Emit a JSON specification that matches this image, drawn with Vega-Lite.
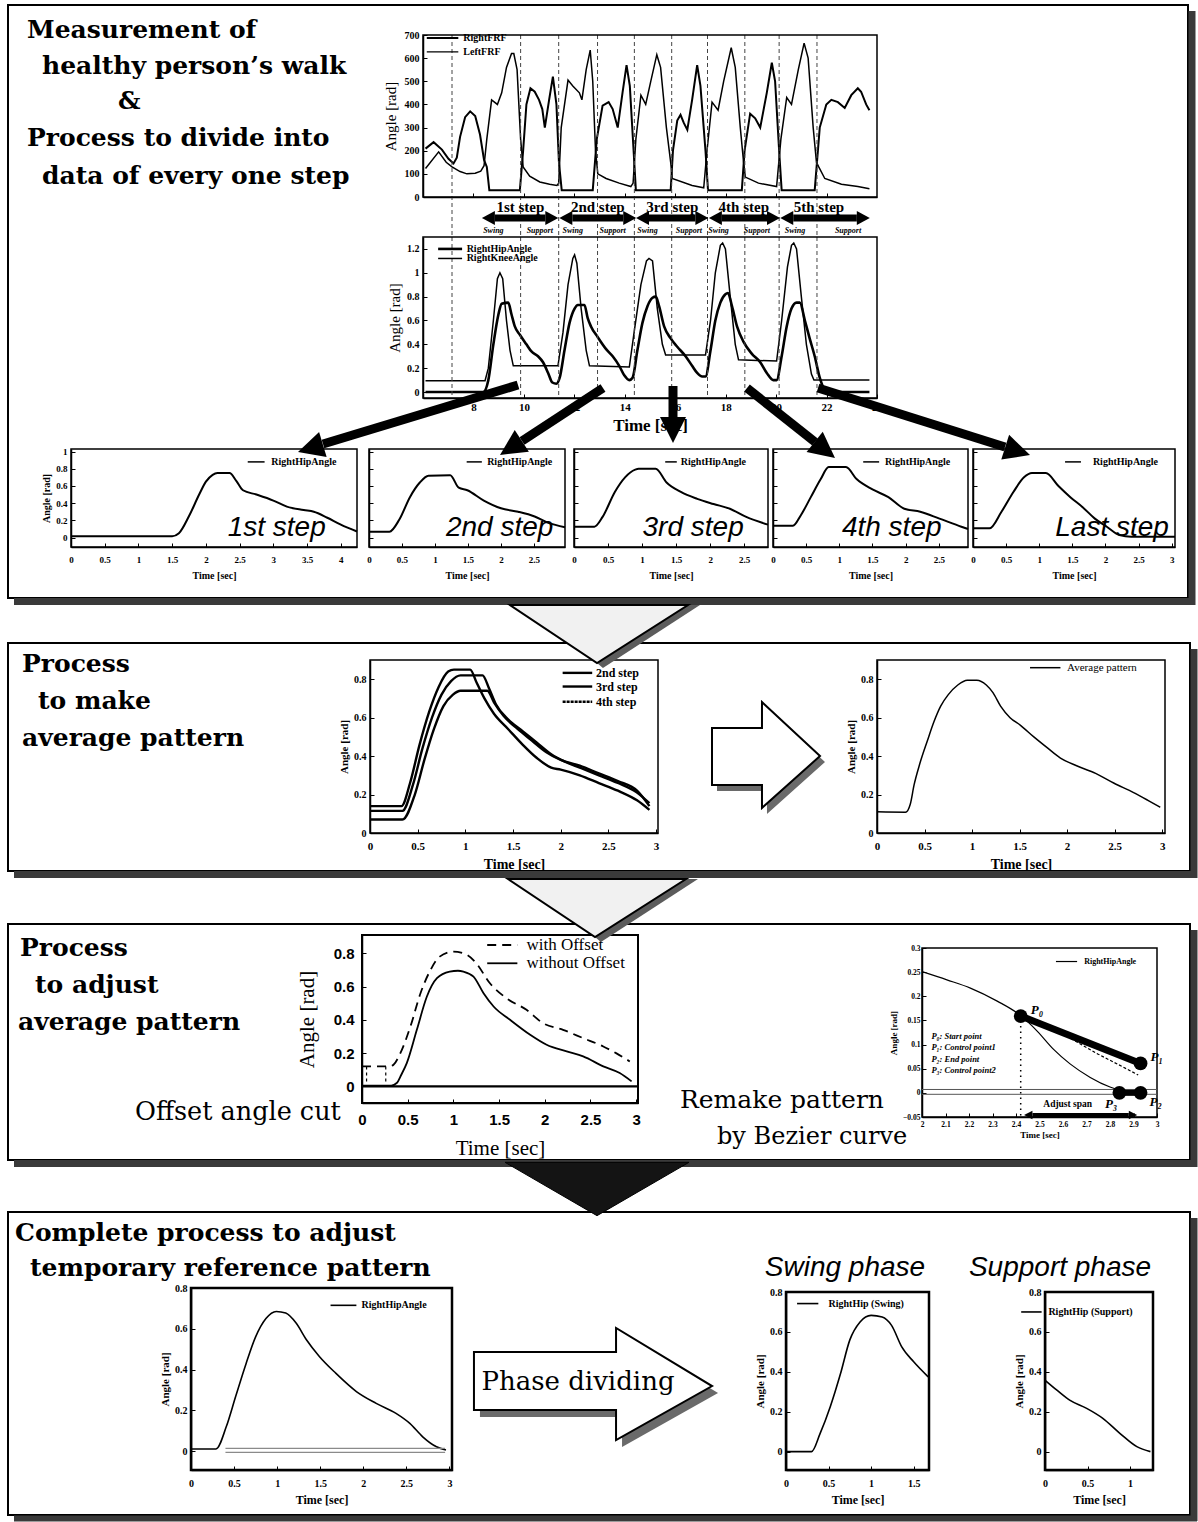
{
  "$schema": "https://vega.github.io/schema/vega-lite/v6.json",
  "width": 1198,
  "height": 1522,
  "autosize": {"type": "none"},
  "padding": 0,
  "background": "white",
  "data": {"values": [{}]},
  "config": {
    "view": {"stroke": null},
    "axis": {
      "grid": false, "labelFont": "Liberation Serif", "labelFontWeight": "bold", "labelFontSize": 10,
      "labelColor": "black", "titleFont": "Liberation Serif", "titleFontWeight": "bold", "titleFontSize": 11,
      "titleColor": "black", "domainColor": "black", "domainWidth": 1.5, "tickColor": "black",
      "tickSize": -4, "labelPadding": 8, "titlePadding": 4, "labelFlush": false, "labelOverlap": false
    },
    "text": {"font": "Liberation Serif", "color": "black"}
  },
  "datasets": {
    "frf_right": [{"t":6.1,"v":209},{"t":6.42,"v":237},{"t":6.75,"v":205},{"t":7.01,"v":165},{"t":7.21,"v":145},{"t":7.34,"v":170},{"t":7.47,"v":260},{"t":7.67,"v":345},{"t":7.87,"v":370},{"t":8.07,"v":350},{"t":8.26,"v":270},{"t":8.42,"v":160},{"t":8.53,"v":130},{"t":8.63,"v":29},{"t":9.84,"v":29},{"t":9.97,"v":200},{"t":10.1,"v":400},{"t":10.26,"v":470},{"t":10.43,"v":455},{"t":10.6,"v":420},{"t":10.73,"v":380},{"t":10.83,"v":300},{"t":11.0,"v":420},{"t":11.15,"v":520},{"t":11.29,"v":400},{"t":11.39,"v":150},{"t":11.5,"v":29},{"t":12.73,"v":29},{"t":12.89,"v":250},{"t":13.12,"v":395},{"t":13.36,"v":410},{"t":13.52,"v":380},{"t":13.72,"v":300},{"t":13.91,"v":450},{"t":14.07,"v":570},{"t":14.2,"v":480},{"t":14.35,"v":200},{"t":14.44,"v":29},{"t":15.82,"v":29},{"t":15.91,"v":200},{"t":16.08,"v":330},{"t":16.21,"v":355},{"t":16.34,"v":320},{"t":16.48,"v":290},{"t":16.67,"v":420},{"t":16.87,"v":570},{"t":17.0,"v":480},{"t":17.2,"v":200},{"t":17.3,"v":29},{"t":18.64,"v":29},{"t":18.75,"v":200},{"t":18.97,"v":360},{"t":19.17,"v":340},{"t":19.37,"v":300},{"t":19.63,"v":450},{"t":19.83,"v":580},{"t":19.96,"v":500},{"t":20.12,"v":200},{"t":20.22,"v":29},{"t":21.53,"v":29},{"t":21.73,"v":300},{"t":21.99,"v":400},{"t":22.19,"v":420},{"t":22.45,"v":410},{"t":22.72,"v":385},{"t":22.98,"v":440},{"t":23.24,"v":470},{"t":23.37,"v":455},{"t":23.57,"v":400},{"t":23.7,"v":375}],
    "frf_left": [{"t":6.1,"v":123},{"t":6.62,"v":195},{"t":6.92,"v":150},{"t":7.15,"v":130},{"t":7.47,"v":110},{"t":7.74,"v":100},{"t":8.07,"v":103},{"t":8.29,"v":112},{"t":8.42,"v":135},{"t":8.53,"v":250},{"t":8.72,"v":420},{"t":8.95,"v":400},{"t":9.12,"v":450},{"t":9.31,"v":560},{"t":9.51,"v":620},{"t":9.6,"v":620},{"t":9.73,"v":550},{"t":9.87,"v":250},{"t":9.97,"v":130},{"t":10.23,"v":90},{"t":10.63,"v":65},{"t":11.02,"v":55},{"t":11.31,"v":50},{"t":11.38,"v":60},{"t":11.48,"v":300},{"t":11.75,"v":505},{"t":11.94,"v":480},{"t":12.2,"v":450},{"t":12.3,"v":420},{"t":12.47,"v":550},{"t":12.63,"v":635},{"t":12.73,"v":500},{"t":12.84,"v":200},{"t":12.93,"v":100},{"t":13.26,"v":80},{"t":13.78,"v":60},{"t":14.24,"v":45},{"t":14.33,"v":60},{"t":14.44,"v":250},{"t":14.64,"v":440},{"t":14.83,"v":400},{"t":15.03,"v":500},{"t":15.27,"v":615},{"t":15.42,"v":560},{"t":15.65,"v":300},{"t":15.82,"v":150},{"t":15.88,"v":80},{"t":16.67,"v":50},{"t":17.13,"v":40},{"t":17.26,"v":200},{"t":17.46,"v":410},{"t":17.7,"v":375},{"t":17.92,"v":500},{"t":18.22,"v":645},{"t":18.38,"v":560},{"t":18.58,"v":300},{"t":18.71,"v":150},{"t":18.78,"v":86},{"t":19.3,"v":60},{"t":20.02,"v":45},{"t":20.19,"v":250},{"t":20.42,"v":430},{"t":20.61,"v":400},{"t":20.88,"v":550},{"t":21.11,"v":665},{"t":21.27,"v":600},{"t":21.47,"v":300},{"t":21.6,"v":150},{"t":21.69,"v":130},{"t":21.93,"v":80},{"t":22.59,"v":55},{"t":23.24,"v":45},{"t":23.7,"v":36}],
    "hip_angle": [{"t":6.1,"v":0},{"t":8.39,"v":0},{"t":8.59,"v":0.1},{"t":8.79,"v":0.4},{"t":8.99,"v":0.65},{"t":9.12,"v":0.74},{"t":9.38,"v":0.75},{"t":9.51,"v":0.65},{"t":9.64,"v":0.55},{"t":9.84,"v":0.48},{"t":10.1,"v":0.4},{"t":10.3,"v":0.34},{"t":10.56,"v":0.3},{"t":10.76,"v":0.25},{"t":10.96,"v":0.16},{"t":11.13,"v":0.08},{"t":11.29,"v":0.07},{"t":11.42,"v":0.12},{"t":11.61,"v":0.35},{"t":11.81,"v":0.58},{"t":12.01,"v":0.7},{"t":12.14,"v":0.73},{"t":12.4,"v":0.73},{"t":12.53,"v":0.62},{"t":12.66,"v":0.55},{"t":12.93,"v":0.46},{"t":13.26,"v":0.36},{"t":13.52,"v":0.3},{"t":13.78,"v":0.22},{"t":13.98,"v":0.14},{"t":14.18,"v":0.1},{"t":14.31,"v":0.12},{"t":14.5,"v":0.35},{"t":14.7,"v":0.58},{"t":14.9,"v":0.72},{"t":15.1,"v":0.79},{"t":15.23,"v":0.8},{"t":15.36,"v":0.72},{"t":15.56,"v":0.55},{"t":15.82,"v":0.45},{"t":16.08,"v":0.38},{"t":16.41,"v":0.3},{"t":16.67,"v":0.22},{"t":16.87,"v":0.16},{"t":17.07,"v":0.13},{"t":17.2,"v":0.13},{"t":17.4,"v":0.35},{"t":17.59,"v":0.6},{"t":17.79,"v":0.75},{"t":17.99,"v":0.82},{"t":18.09,"v":0.83},{"t":18.25,"v":0.72},{"t":18.45,"v":0.55},{"t":18.71,"v":0.42},{"t":19.04,"v":0.32},{"t":19.37,"v":0.25},{"t":19.63,"v":0.16},{"t":19.89,"v":0.1},{"t":20.02,"v":0.1},{"t":20.22,"v":0.3},{"t":20.42,"v":0.55},{"t":20.61,"v":0.7},{"t":20.81,"v":0.75},{"t":20.94,"v":0.75},{"t":21.14,"v":0.6},{"t":21.33,"v":0.45},{"t":21.53,"v":0.3},{"t":21.73,"v":0.12},{"t":21.93,"v":0.02},{"t":22.19,"v":0},{"t":23.7,"v":0}],
    "knee_angle": [{"t":6.1,"v":0.095},{"t":8.46,"v":0.095},{"t":8.59,"v":0.2},{"t":8.79,"v":0.6},{"t":8.95,"v":0.95},{"t":9.05,"v":1.0},{"t":9.16,"v":0.95},{"t":9.31,"v":0.6},{"t":9.45,"v":0.35},{"t":9.58,"v":0.22},{"t":11.35,"v":0.22},{"t":11.55,"v":0.5},{"t":11.75,"v":0.9},{"t":11.94,"v":1.12},{"t":12.01,"v":1.15},{"t":12.1,"v":1.08},{"t":12.27,"v":0.7},{"t":12.47,"v":0.35},{"t":12.6,"v":0.22},{"t":14.18,"v":0.21},{"t":14.37,"v":0.5},{"t":14.64,"v":0.9},{"t":14.86,"v":1.1},{"t":14.96,"v":1.12},{"t":15.1,"v":1.1},{"t":15.29,"v":0.7},{"t":15.49,"v":0.4},{"t":15.62,"v":0.31},{"t":17.2,"v":0.31},{"t":17.4,"v":0.6},{"t":17.59,"v":1.0},{"t":17.79,"v":1.23},{"t":17.88,"v":1.25},{"t":17.99,"v":1.2},{"t":18.18,"v":0.8},{"t":18.38,"v":0.4},{"t":18.51,"v":0.27},{"t":20.02,"v":0.26},{"t":20.22,"v":0.6},{"t":20.45,"v":1.05},{"t":20.61,"v":1.23},{"t":20.7,"v":1.25},{"t":20.81,"v":1.2},{"t":21.0,"v":0.8},{"t":21.2,"v":0.4},{"t":21.4,"v":0.15},{"t":21.5,"v":0.1},{"t":23.7,"v":0.1}],
    "bounds": [{"t":7.15},{"t":9.87},{"t":11.38},{"t":12.92},{"t":14.38},{"t":15.86},{"t":17.28},{"t":18.76},{"t":20.12},{"t":21.62}],
    "steps": [{"step":"1st step","t0":8.85,"t1":10.85,"mid":9.86},{"step":"2nd step","t0":11.92,"t1":13.94,"mid":12.93},{"step":"3rd step","t0":14.96,"t1":16.8,"mid":15.88},{"step":"4th step","t0":17.85,"t1":19.64,"mid":18.72},{"step":"5th step","t0":20.68,"t1":23.2,"mid":21.7}],
    "phases": [{"phase":"Swing","t":8.79},{"phase":"Support","t":10.63},{"phase":"Swing","t":11.94},{"phase":"Support","t":13.52},{"phase":"Swing","t":14.9},{"phase":"Support","t":16.54},{"phase":"Swing","t":17.72},{"phase":"Support","t":19.24},{"phase":"Swing","t":20.75},{"phase":"Support","t":22.85}],
    "step1": [{"t":0,"v":0.015},{"t":1.5,"v":0.015},{"t":1.6,"v":0.05},{"t":1.75,"v":0.25},{"t":1.9,"v":0.5},{"t":2.0,"v":0.65},{"t":2.1,"v":0.73},{"t":2.17,"v":0.75},{"t":2.35,"v":0.75},{"t":2.45,"v":0.66},{"t":2.55,"v":0.55},{"t":2.75,"v":0.5},{"t":3.0,"v":0.43},{"t":3.2,"v":0.36},{"t":3.45,"v":0.32},{"t":3.6,"v":0.3},{"t":3.8,"v":0.23},{"t":4.0,"v":0.15},{"t":4.24,"v":0.07}],
    "step2": [{"t":0,"v":0.068},{"t":0.31,"v":0.068},{"t":0.46,"v":0.21},{"t":0.62,"v":0.47},{"t":0.77,"v":0.64},{"t":0.9,"v":0.72},{"t":1.23,"v":0.725},{"t":1.36,"v":0.58},{"t":1.49,"v":0.55},{"t":1.74,"v":0.43},{"t":2.0,"v":0.34},{"t":2.26,"v":0.3},{"t":2.51,"v":0.245},{"t":2.72,"v":0.17},{"t":2.97,"v":0.12}],
    "step3": [{"t":0,"v":0.126},{"t":0.3,"v":0.126},{"t":0.42,"v":0.24},{"t":0.6,"v":0.53},{"t":0.75,"v":0.7},{"t":0.9,"v":0.79},{"t":0.95,"v":0.8},{"t":1.2,"v":0.8},{"t":1.36,"v":0.64},{"t":1.57,"v":0.53},{"t":1.81,"v":0.45},{"t":2.05,"v":0.39},{"t":2.29,"v":0.335},{"t":2.53,"v":0.24},{"t":2.85,"v":0.15}],
    "step4": [{"t":0,"v":0.137},{"t":0.3,"v":0.137},{"t":0.42,"v":0.26},{"t":0.57,"v":0.47},{"t":0.72,"v":0.68},{"t":0.84,"v":0.82},{"t":1.1,"v":0.82},{"t":1.26,"v":0.68},{"t":1.5,"v":0.56},{"t":1.74,"v":0.47},{"t":1.98,"v":0.335},{"t":2.22,"v":0.3},{"t":2.51,"v":0.22},{"t":2.84,"v":0.126},{"t":2.94,"v":0.1}],
    "step_last": [{"t":0,"v":0.107},{"t":0.25,"v":0.107},{"t":0.43,"v":0.3},{"t":0.61,"v":0.53},{"t":0.77,"v":0.7},{"t":0.89,"v":0.75},{"t":1.1,"v":0.75},{"t":1.29,"v":0.6},{"t":1.47,"v":0.47},{"t":1.66,"v":0.35},{"t":1.84,"v":0.22},{"t":2.02,"v":0.126},{"t":2.21,"v":0.03},{"t":2.39,"v":0.01},{"t":3.05,"v":0.01}],
    "three_steps": [
      {"step":"2nd","t":0,"v":0.14},{"step":"2nd","t":0.33,"v":0.14},{"step":"2nd","t":0.42,"v":0.26},{"step":"2nd","t":0.52,"v":0.46},{"step":"2nd","t":0.62,"v":0.63},{"step":"2nd","t":0.72,"v":0.76},{"step":"2nd","t":0.82,"v":0.84},{"step":"2nd","t":0.88,"v":0.85},{"step":"2nd","t":1.05,"v":0.85},{"step":"2nd","t":1.12,"v":0.78},{"step":"2nd","t":1.2,"v":0.7},{"step":"2nd","t":1.3,"v":0.62},{"step":"2nd","t":1.45,"v":0.54},{"step":"2nd","t":1.6,"v":0.46},{"step":"2nd","t":1.75,"v":0.39},{"step":"2nd","t":1.9,"v":0.34},{"step":"2nd","t":2.0,"v":0.33},{"step":"2nd","t":2.2,"v":0.3},{"step":"2nd","t":2.4,"v":0.26},{"step":"2nd","t":2.6,"v":0.22},{"step":"2nd","t":2.8,"v":0.17},{"step":"2nd","t":2.93,"v":0.12},
      {"step":"3rd","t":0,"v":0.115},{"step":"3rd","t":0.34,"v":0.115},{"step":"3rd","t":0.45,"v":0.25},{"step":"3rd","t":0.55,"v":0.44},{"step":"3rd","t":0.65,"v":0.6},{"step":"3rd","t":0.75,"v":0.72},{"step":"3rd","t":0.85,"v":0.79},{"step":"3rd","t":0.95,"v":0.82},{"step":"3rd","t":1.18,"v":0.82},{"step":"3rd","t":1.25,"v":0.75},{"step":"3rd","t":1.32,"v":0.67},{"step":"3rd","t":1.45,"v":0.59},{"step":"3rd","t":1.6,"v":0.53},{"step":"3rd","t":1.75,"v":0.47},{"step":"3rd","t":1.9,"v":0.41},{"step":"3rd","t":2.05,"v":0.37},{"step":"3rd","t":2.2,"v":0.34},{"step":"3rd","t":2.4,"v":0.3},{"step":"3rd","t":2.6,"v":0.26},{"step":"3rd","t":2.8,"v":0.21},{"step":"3rd","t":2.93,"v":0.155},
      {"step":"4th","t":0,"v":0.07},{"step":"4th","t":0.34,"v":0.07},{"step":"4th","t":0.47,"v":0.2},{"step":"4th","t":0.57,"v":0.38},{"step":"4th","t":0.67,"v":0.54},{"step":"4th","t":0.77,"v":0.66},{"step":"4th","t":0.87,"v":0.72},{"step":"4th","t":0.95,"v":0.74},{"step":"4th","t":1.23,"v":0.74},{"step":"4th","t":1.3,"v":0.68},{"step":"4th","t":1.4,"v":0.61},{"step":"4th","t":1.55,"v":0.54},{"step":"4th","t":1.7,"v":0.48},{"step":"4th","t":1.85,"v":0.42},{"step":"4th","t":2.0,"v":0.38},{"step":"4th","t":2.2,"v":0.35},{"step":"4th","t":2.4,"v":0.31},{"step":"4th","t":2.6,"v":0.27},{"step":"4th","t":2.8,"v":0.22},{"step":"4th","t":2.93,"v":0.14}
    ],
    "average": [{"t":0,"v":0.11},{"t":0.3,"v":0.108},{"t":0.35,"v":0.15},{"t":0.39,"v":0.25},{"t":0.45,"v":0.36},{"t":0.53,"v":0.48},{"t":0.6,"v":0.58},{"t":0.67,"v":0.66},{"t":0.75,"v":0.72},{"t":0.85,"v":0.77},{"t":0.95,"v":0.795},{"t":1.05,"v":0.795},{"t":1.15,"v":0.77},{"t":1.22,"v":0.73},{"t":1.3,"v":0.66},{"t":1.4,"v":0.6},{"t":1.51,"v":0.56},{"t":1.65,"v":0.5},{"t":1.8,"v":0.44},{"t":1.93,"v":0.39},{"t":2.1,"v":0.35},{"t":2.3,"v":0.31},{"t":2.49,"v":0.26},{"t":2.7,"v":0.21},{"t":2.85,"v":0.17},{"t":2.98,"v":0.134}],
    "with_offset": [{"t":0,"v":0.12},{"t":0.3,"v":0.12},{"t":0.345,"v":0.13},{"t":0.42,"v":0.2},{"t":0.53,"v":0.36},{"t":0.64,"v":0.56},{"t":0.75,"v":0.7},{"t":0.85,"v":0.78},{"t":1.0,"v":0.81},{"t":1.15,"v":0.79},{"t":1.25,"v":0.74},{"t":1.4,"v":0.62},{"t":1.58,"v":0.53},{"t":1.8,"v":0.46},{"t":1.98,"v":0.38},{"t":2.2,"v":0.34},{"t":2.42,"v":0.29},{"t":2.64,"v":0.24},{"t":2.78,"v":0.2},{"t":2.93,"v":0.15}],
    "without_offset": [{"t":0,"v":0.005},{"t":0.32,"v":0.005},{"t":0.38,"v":0.02},{"t":0.43,"v":0.07},{"t":0.49,"v":0.14},{"t":0.6,"v":0.34},{"t":0.71,"v":0.54},{"t":0.82,"v":0.65},{"t":0.96,"v":0.69},{"t":1.05,"v":0.695},{"t":1.11,"v":0.69},{"t":1.22,"v":0.66},{"t":1.33,"v":0.56},{"t":1.44,"v":0.48},{"t":1.62,"v":0.4},{"t":1.84,"v":0.31},{"t":2.02,"v":0.25},{"t":2.24,"v":0.21},{"t":2.42,"v":0.18},{"t":2.64,"v":0.12},{"t":2.82,"v":0.08},{"t":2.95,"v":0.03}],
    "bezier_hip": [{"t":2.0,"v":0.251},{"t":2.106,"v":0.234},{"t":2.206,"v":0.217},{"t":2.32,"v":0.19},{"t":2.42,"v":0.16},{"t":2.49,"v":0.128},{"t":2.56,"v":0.09},{"t":2.63,"v":0.06},{"t":2.716,"v":0.032},{"t":2.8,"v":0.012},{"t":2.86,"v":0.003},{"t":2.93,"v":0.0}],
    "bezier_curve": [{"t":2.42,"v":0.159},{"t":2.55,"v":0.135},{"t":2.65,"v":0.108},{"t":2.75,"v":0.08},{"t":2.85,"v":0.055},{"t":2.92,"v":0.037}],
    "bezier_points": [{"p":"P₀","t":2.42,"v":0.159},{"p":"P₁","t":2.93,"v":0.061},{"p":"P₂","t":2.93,"v":0.0},{"p":"P₃","t":2.84,"v":0.0}],
    "reference": [{"t":0,"v":0.01},{"t":0.29,"v":0.01},{"t":0.41,"v":0.12},{"t":0.52,"v":0.27},{"t":0.64,"v":0.43},{"t":0.75,"v":0.56},{"t":0.87,"v":0.65},{"t":0.99,"v":0.685},{"t":1.1,"v":0.677},{"t":1.22,"v":0.628},{"t":1.34,"v":0.546},{"t":1.49,"v":0.464},{"t":1.68,"v":0.382},{"t":1.92,"v":0.292},{"t":2.15,"v":0.234},{"t":2.38,"v":0.185},{"t":2.54,"v":0.136},{"t":2.69,"v":0.07},{"t":2.85,"v":0.021},{"t":2.96,"v":0.005}],
    "swing": [{"t":0,"v":0.0},{"t":0.3,"v":0.0},{"t":0.4,"v":0.09},{"t":0.52,"v":0.225},{"t":0.64,"v":0.39},{"t":0.75,"v":0.56},{"t":0.87,"v":0.65},{"t":1.0,"v":0.683},{"t":1.13,"v":0.675},{"t":1.24,"v":0.633},{"t":1.36,"v":0.525},{"t":1.5,"v":0.45},{"t":1.67,"v":0.375}],
    "support": [{"t":0,"v":0.358},{"t":0.14,"v":0.308},{"t":0.29,"v":0.258},{"t":0.49,"v":0.217},{"t":0.68,"v":0.167},{"t":0.88,"v":0.092},{"t":1.08,"v":0.025},{"t":1.24,"v":0.0}]
  },
  "resolve": {"scale": {"x": "independent", "y": "independent"}},
  "layer": [
    {
      "layer": [
        {"mark": {"type": "rect", "fill": "transparent", "stroke": "black", "strokeWidth": 2},
         "encoding": {"x": {"datum": 8, "type": "quantitative", "scale": {"domain": [0, 1198], "range": [0, 1198], "nice": false, "zero": false}, "axis": null},
                      "x2": {"datum": 1188},
                      "y": {"datum": 5, "type": "quantitative", "scale": {"domain": [0, 1522], "range": [0, 1522], "nice": false, "zero": false}, "axis": null},
                      "y2": {"datum": 598}}},
        {"mark": {"type": "rect", "fill": "transparent", "stroke": "black", "strokeWidth": 2},
         "encoding": {"x": {"datum": 8, "type": "quantitative", "axis": null}, "x2": {"datum": 1190}, "y": {"datum": 643, "type": "quantitative", "axis": null}, "y2": {"datum": 871}}},
        {"mark": {"type": "rect", "fill": "transparent", "stroke": "black", "strokeWidth": 2},
         "encoding": {"x": {"datum": 8, "type": "quantitative", "axis": null}, "x2": {"datum": 1190}, "y": {"datum": 924, "type": "quantitative", "axis": null}, "y2": {"datum": 1160}}},
        {"mark": {"type": "rect", "fill": "transparent", "stroke": "black", "strokeWidth": 2},
         "encoding": {"x": {"datum": 8, "type": "quantitative", "axis": null}, "x2": {"datum": 1190}, "y": {"datum": 1212, "type": "quantitative", "axis": null}, "y2": {"datum": 1515}}},
        {"mark": {"type": "rule", "color": "#3a3a3a", "strokeWidth": 7},
         "encoding": {"x": {"datum": 1192, "type": "quantitative", "axis": null}, "y": {"datum": 11, "type": "quantitative", "axis": null}, "y2": {"datum": 605}}},
        {"mark": {"type": "rule", "color": "#3a3a3a", "strokeWidth": 7},
         "encoding": {"x": {"datum": 14, "type": "quantitative", "axis": null}, "x2": {"datum": 1195}, "y": {"datum": 601.5, "type": "quantitative", "axis": null}}},
        {"mark": {"type": "rule", "color": "#3a3a3a", "strokeWidth": 7},
         "encoding": {"x": {"datum": 1194, "type": "quantitative", "axis": null}, "y": {"datum": 649, "type": "quantitative", "axis": null}, "y2": {"datum": 878}}},
        {"mark": {"type": "rule", "color": "#3a3a3a", "strokeWidth": 7},
         "encoding": {"x": {"datum": 14, "type": "quantitative", "axis": null}, "x2": {"datum": 1197}, "y": {"datum": 874.5, "type": "quantitative", "axis": null}}},
        {"mark": {"type": "rule", "color": "#3a3a3a", "strokeWidth": 7},
         "encoding": {"x": {"datum": 1194, "type": "quantitative", "axis": null}, "y": {"datum": 930, "type": "quantitative", "axis": null}, "y2": {"datum": 1167}}},
        {"mark": {"type": "rule", "color": "#3a3a3a", "strokeWidth": 7},
         "encoding": {"x": {"datum": 14, "type": "quantitative", "axis": null}, "x2": {"datum": 1197}, "y": {"datum": 1163.5, "type": "quantitative", "axis": null}}},
        {"mark": {"type": "rule", "color": "#3a3a3a", "strokeWidth": 7},
         "encoding": {"x": {"datum": 1194, "type": "quantitative", "axis": null}, "y": {"datum": 1218, "type": "quantitative", "axis": null}, "y2": {"datum": 1521}}},
        {"mark": {"type": "rule", "color": "#3a3a3a", "strokeWidth": 6},
         "encoding": {"x": {"datum": 14, "type": "quantitative", "axis": null}, "x2": {"datum": 1197}, "y": {"datum": 1518.5, "type": "quantitative", "axis": null}}}
      ]
    },
    {
      "layer": [
        {"data": {"name": "frf_right"}, "mark": {"type": "line", "color": "black", "strokeWidth": 2},
         "encoding": {
           "x": {"field": "t", "type": "quantitative", "scale": {"domain": [6, 24], "range": [423, 877], "nice": false, "zero": false},
                 "axis": {"orient": "bottom", "offset": -1325, "values": [8, 10, 12, 14, 16, 18, 20, 22], "labels": false, "title": null}},
           "y": {"field": "v", "type": "quantitative", "scale": {"domain": [0, 700], "range": [197, 35], "nice": false, "zero": false},
                 "axis": {"orient": "left", "offset": -423, "values": [0, 100, 200, 300, 400, 500, 600, 700], "format": "d", "title": "Angle [rad]", "titleFontSize": 15, "titleFontWeight": "normal", "titlePadding": 6, "labelFontSize": 10}}}},
        {"data": {"name": "frf_left"}, "mark": {"type": "line", "color": "black", "strokeWidth": 1.5},
         "encoding": {"x": {"field": "t", "type": "quantitative"}, "y": {"field": "v", "type": "quantitative"}}},
        {"data": {"name": "bounds"}, "mark": {"type": "rule", "color": "#444", "strokeWidth": 1, "strokeDash": [4, 3]},
         "encoding": {"x": {"field": "t", "type": "quantitative"}, "y": {"datum": 700, "type": "quantitative"}, "y2": {"datum": -165}}},
        {"mark": {"type": "rect", "fill": "transparent", "stroke": "black", "strokeWidth": 1.5},
         "encoding": {"x": {"datum": 6, "type": "quantitative"}, "x2": {"datum": 24}, "y": {"datum": 0, "type": "quantitative"}, "y2": {"datum": 700}}},
        {"mark": {"type": "rule", "color": "black", "strokeWidth": 2},
         "encoding": {"x": {"datum": 6.15, "type": "quantitative"}, "x2": {"datum": 7.4}, "y": {"datum": 687, "type": "quantitative"}}},
        {"mark": {"type": "rule", "color": "black", "strokeWidth": 1.2},
         "encoding": {"x": {"datum": 6.15, "type": "quantitative"}, "x2": {"datum": 7.4}, "y": {"datum": 627, "type": "quantitative"}}},
        {"mark": {"type": "text", "text": "RightFRF", "align": "left", "baseline": "middle", "fontSize": 10, "fontWeight": "bold"},
         "encoding": {"x": {"datum": 7.6, "type": "quantitative"}, "y": {"datum": 687, "type": "quantitative"}}},
        {"mark": {"type": "text", "text": "LeftFRF", "align": "left", "baseline": "middle", "fontSize": 10, "fontWeight": "bold"},
         "encoding": {"x": {"datum": 7.6, "type": "quantitative"}, "y": {"datum": 627, "type": "quantitative"}}},
        {"data": {"name": "steps"}, "mark": {"type": "rule", "color": "black", "strokeWidth": 7},
         "encoding": {"x": {"field": "t0", "type": "quantitative"}, "x2": {"field": "t1"}, "y": {"datum": -91, "type": "quantitative"}}},
        {"data": {"name": "steps"}, "mark": {"type": "point", "shape": "M0,-0.7L0,0.7L-1.3,0Z", "size": 400, "filled": true, "color": "black", "opacity": 1},
         "encoding": {"x": {"field": "t0", "type": "quantitative"}, "y": {"datum": -91, "type": "quantitative"}}},
        {"data": {"name": "steps"}, "mark": {"type": "point", "shape": "M0,-0.7L0,0.7L1.3,0Z", "size": 400, "filled": true, "color": "black", "opacity": 1},
         "encoding": {"x": {"field": "t1", "type": "quantitative"}, "y": {"datum": -91, "type": "quantitative"}}},
        {"data": {"name": "steps"}, "mark": {"type": "text", "fontSize": 15, "fontWeight": "bold", "baseline": "middle", "align": "center"},
         "encoding": {"x": {"field": "mid", "type": "quantitative"}, "y": {"datum": -43, "type": "quantitative"}, "text": {"field": "step"}}},
        {"data": {"name": "phases"}, "mark": {"type": "text", "fontSize": 8, "fontStyle": "italic", "fontWeight": "bold", "baseline": "middle", "align": "center"},
         "encoding": {"x": {"field": "t", "type": "quantitative"}, "y": {"datum": -148, "type": "quantitative"}, "text": {"field": "phase"}}}
      ]
    },
    {
      "layer": [
        {"data": {"name": "hip_angle"}, "mark": {"type": "line", "color": "black", "strokeWidth": 2.6, "interpolate": "monotone"},
         "encoding": {
           "x": {"field": "t", "type": "quantitative", "scale": {"domain": [6, 24], "range": [423, 877], "nice": false, "zero": false},
                 "axis": {"orient": "bottom", "offset": -1124, "values": [8, 10, 12, 14, 16, 18, 20, 22, 24], "format": "~g", "title": "Time [sec]", "titleFontSize": 17, "labelFontSize": 11, "labelPadding": 7, "titlePadding": 5}},
           "y": {"field": "v", "type": "quantitative", "scale": {"domain": [-0.05, 1.3], "range": [398, 237], "nice": false, "zero": false},
                 "axis": {"orient": "left", "offset": -423, "values": [0, 0.2, 0.4, 0.6, 0.8, 1, 1.2], "format": "~g", "title": "Angle [rad]", "titleFontSize": 15, "titleFontWeight": "normal", "labelFontSize": 10}}}},
        {"data": {"name": "knee_angle"}, "mark": {"type": "line", "color": "black", "strokeWidth": 1.5},
         "encoding": {"x": {"field": "t", "type": "quantitative"}, "y": {"field": "v", "type": "quantitative"}}},
        {"data": {"name": "bounds"}, "mark": {"type": "rule", "color": "#444", "strokeWidth": 1, "strokeDash": [4, 3]},
         "encoding": {"x": {"field": "t", "type": "quantitative"}, "y": {"datum": 1.3, "type": "quantitative"}, "y2": {"datum": -0.05}}},
        {"mark": {"type": "rect", "fill": "transparent", "stroke": "black", "strokeWidth": 1.5},
         "encoding": {"x": {"datum": 6, "type": "quantitative"}, "x2": {"datum": 24}, "y": {"datum": -0.05, "type": "quantitative"}, "y2": {"datum": 1.3}}},
        {"mark": {"type": "rule", "color": "black", "strokeWidth": 2.6},
         "encoding": {"x": {"datum": 6.6, "type": "quantitative"}, "x2": {"datum": 7.55}, "y": {"datum": 1.2, "type": "quantitative"}}},
        {"mark": {"type": "rule", "color": "black", "strokeWidth": 1.5},
         "encoding": {"x": {"datum": 6.6, "type": "quantitative"}, "x2": {"datum": 7.55}, "y": {"datum": 1.12, "type": "quantitative"}}},
        {"mark": {"type": "text", "text": "RightHipAngle", "align": "left", "baseline": "middle", "fontSize": 10, "fontWeight": "bold"},
         "encoding": {"x": {"datum": 7.73, "type": "quantitative"}, "y": {"datum": 1.2, "type": "quantitative"}}},
        {"mark": {"type": "text", "text": "RightKneeAngle", "align": "left", "baseline": "middle", "fontSize": 10, "fontWeight": "bold"},
         "encoding": {"x": {"datum": 7.73, "type": "quantitative"}, "y": {"datum": 1.12, "type": "quantitative"}}}
      ]
    },
    {
      "layer": [
        {"data": {"name": "step1"}, "mark": {"type": "line", "color": "black", "strokeWidth": 2, "interpolate": "monotone"},
         "encoding": {
           "x": {"field": "t", "type": "quantitative", "scale": {"domain": [0, 4.24], "range": [71, 357], "nice": false, "zero": false},
                 "axis": {"orient": "bottom", "offset": -975, "values": [0, 0.5, 1, 1.5, 2, 2.5, 3, 3.5, 4], "format": "~g", "title": "Time [sec]", "labelFontSize": 9, "titleFontSize": 10, "labelPadding": 12, "titlePadding": 6}},
           "y": {"field": "v", "type": "quantitative", "scale": {"domain": [-0.11, 1.03], "range": [547, 449], "nice": false, "zero": false},
                 "axis": {"orient": "left", "offset": -71, "values": [0, 0.2, 0.4, 0.6, 0.8, 1], "format": "~g", "title": "Angle [rad]", "labelFontSize": 9, "titleFontSize": 10}}}},
        {"mark": {"type": "rect", "fill": "transparent", "stroke": "black", "strokeWidth": 1.5},
         "encoding": {"x": {"datum": 0, "type": "quantitative"}, "x2": {"datum": 4.24}, "y": {"datum": -0.11, "type": "quantitative"}, "y2": {"datum": 1.03}}},
        {"mark": {"type": "rule", "color": "black", "strokeWidth": 1.5},
         "encoding": {"x": {"datum": 2.62, "type": "quantitative"}, "x2": {"datum": 2.87}, "y": {"datum": 0.88, "type": "quantitative"}}},
        {"mark": {"type": "text", "text": "RightHipAngle", "align": "left", "baseline": "middle", "fontSize": 10, "fontWeight": "bold"},
         "encoding": {"x": {"datum": 2.97, "type": "quantitative"}, "y": {"datum": 0.88, "type": "quantitative"}}},
        {"mark": {"type": "text", "text": "1st step", "align": "center", "baseline": "alphabetic", "font": "Liberation Sans", "fontStyle": "italic", "fontSize": 28},
         "encoding": {"x": {"datum": 3.05, "type": "quantitative"}, "y": {"datum": 0.02, "type": "quantitative"}}}
      ]
    },
    {
      "layer": [
        {"data": {"name": "step2"}, "mark": {"type": "line", "color": "black", "strokeWidth": 2, "interpolate": "monotone"},
         "encoding": {
           "x": {"field": "t", "type": "quantitative", "scale": {"domain": [0, 2.97], "range": [369, 565], "nice": false, "zero": false},
                 "axis": {"orient": "bottom", "offset": -975, "values": [0, 0.5, 1, 1.5, 2, 2.5], "format": "~g", "title": "Time [sec]", "labelFontSize": 9, "titleFontSize": 10, "labelPadding": 12, "titlePadding": 6}},
           "y": {"field": "v", "type": "quantitative", "scale": {"domain": [-0.11, 1.03], "range": [547, 449], "nice": false, "zero": false},
                 "axis": {"orient": "left", "offset": -369, "values": [0, 0.2, 0.4, 0.6, 0.8, 1], "labels": false, "title": null}}}},
        {"mark": {"type": "rect", "fill": "transparent", "stroke": "black", "strokeWidth": 1.5},
         "encoding": {"x": {"datum": 0, "type": "quantitative"}, "x2": {"datum": 2.97}, "y": {"datum": -0.11, "type": "quantitative"}, "y2": {"datum": 1.03}}},
        {"mark": {"type": "rule", "color": "black", "strokeWidth": 1.5},
         "encoding": {"x": {"datum": 1.48, "type": "quantitative"}, "x2": {"datum": 1.71}, "y": {"datum": 0.88, "type": "quantitative"}}},
        {"mark": {"type": "text", "text": "RightHipAngle", "align": "left", "baseline": "middle", "fontSize": 10, "fontWeight": "bold"},
         "encoding": {"x": {"datum": 1.79, "type": "quantitative"}, "y": {"datum": 0.88, "type": "quantitative"}}},
        {"mark": {"type": "text", "text": "2nd step", "align": "center", "baseline": "alphabetic", "font": "Liberation Sans", "fontStyle": "italic", "fontSize": 28},
         "encoding": {"x": {"datum": 1.98, "type": "quantitative"}, "y": {"datum": 0.02, "type": "quantitative"}}}
      ]
    },
    {
      "layer": [
        {"data": {"name": "step3"}, "mark": {"type": "line", "color": "black", "strokeWidth": 2, "interpolate": "monotone"},
         "encoding": {
           "x": {"field": "t", "type": "quantitative", "scale": {"domain": [0, 2.85], "range": [574, 768], "nice": false, "zero": false},
                 "axis": {"orient": "bottom", "offset": -975, "values": [0, 0.5, 1, 1.5, 2, 2.5], "format": "~g", "title": "Time [sec]", "labelFontSize": 9, "titleFontSize": 10, "labelPadding": 12, "titlePadding": 6}},
           "y": {"field": "v", "type": "quantitative", "scale": {"domain": [-0.11, 1.03], "range": [547, 449], "nice": false, "zero": false},
                 "axis": {"orient": "left", "offset": -574, "values": [0, 0.2, 0.4, 0.6, 0.8, 1], "labels": false, "title": null}}}},
        {"mark": {"type": "rect", "fill": "transparent", "stroke": "black", "strokeWidth": 1.5},
         "encoding": {"x": {"datum": 0, "type": "quantitative"}, "x2": {"datum": 2.85}, "y": {"datum": -0.11, "type": "quantitative"}, "y2": {"datum": 1.03}}},
        {"mark": {"type": "rule", "color": "black", "strokeWidth": 1.5},
         "encoding": {"x": {"datum": 1.34, "type": "quantitative"}, "x2": {"datum": 1.51}, "y": {"datum": 0.88, "type": "quantitative"}}},
        {"mark": {"type": "text", "text": "RightHipAngle", "align": "left", "baseline": "middle", "fontSize": 10, "fontWeight": "bold"},
         "encoding": {"x": {"datum": 1.57, "type": "quantitative"}, "y": {"datum": 0.88, "type": "quantitative"}}},
        {"mark": {"type": "text", "text": "3rd step", "align": "center", "baseline": "alphabetic", "font": "Liberation Sans", "fontStyle": "italic", "fontSize": 28},
         "encoding": {"x": {"datum": 1.75, "type": "quantitative"}, "y": {"datum": 0.02, "type": "quantitative"}}}
      ]
    },
    {
      "layer": [
        {"data": {"name": "step4"}, "mark": {"type": "line", "color": "black", "strokeWidth": 2, "interpolate": "monotone"},
         "encoding": {
           "x": {"field": "t", "type": "quantitative", "scale": {"domain": [0, 2.94], "range": [773, 968], "nice": false, "zero": false},
                 "axis": {"orient": "bottom", "offset": -975, "values": [0, 0.5, 1, 1.5, 2, 2.5], "format": "~g", "title": "Time [sec]", "labelFontSize": 9, "titleFontSize": 10, "labelPadding": 12, "titlePadding": 6}},
           "y": {"field": "v", "type": "quantitative", "scale": {"domain": [-0.11, 1.03], "range": [547, 449], "nice": false, "zero": false},
                 "axis": {"orient": "left", "offset": -773, "values": [0, 0.2, 0.4, 0.6, 0.8, 1], "labels": false, "title": null}}}},
        {"mark": {"type": "rect", "fill": "transparent", "stroke": "black", "strokeWidth": 1.5},
         "encoding": {"x": {"datum": 0, "type": "quantitative"}, "x2": {"datum": 2.94}, "y": {"datum": -0.11, "type": "quantitative"}, "y2": {"datum": 1.03}}},
        {"mark": {"type": "rule", "color": "black", "strokeWidth": 1.5},
         "encoding": {"x": {"datum": 1.36, "type": "quantitative"}, "x2": {"datum": 1.6}, "y": {"datum": 0.88, "type": "quantitative"}}},
        {"mark": {"type": "text", "text": "RightHipAngle", "align": "left", "baseline": "middle", "fontSize": 10, "fontWeight": "bold"},
         "encoding": {"x": {"datum": 1.69, "type": "quantitative"}, "y": {"datum": 0.88, "type": "quantitative"}}},
        {"mark": {"type": "text", "text": "4th step", "align": "center", "baseline": "alphabetic", "font": "Liberation Sans", "fontStyle": "italic", "fontSize": 28},
         "encoding": {"x": {"datum": 1.79, "type": "quantitative"}, "y": {"datum": 0.02, "type": "quantitative"}}}
      ]
    },
    {
      "layer": [
        {"data": {"name": "step_last"}, "mark": {"type": "line", "color": "black", "strokeWidth": 2, "interpolate": "monotone"},
         "encoding": {
           "x": {"field": "t", "type": "quantitative", "scale": {"domain": [0, 3.05], "range": [973, 1175], "nice": false, "zero": false},
                 "axis": {"orient": "bottom", "offset": -975, "values": [0, 0.5, 1, 1.5, 2, 2.5, 3], "format": "~g", "title": "Time [sec]", "labelFontSize": 9, "titleFontSize": 10, "labelPadding": 12, "titlePadding": 6}},
           "y": {"field": "v", "type": "quantitative", "scale": {"domain": [-0.11, 1.03], "range": [547, 449], "nice": false, "zero": false},
                 "axis": {"orient": "left", "offset": -973, "values": [0, 0.2, 0.4, 0.6, 0.8, 1], "labels": false, "title": null}}}},
        {"mark": {"type": "rect", "fill": "transparent", "stroke": "black", "strokeWidth": 1.5},
         "encoding": {"x": {"datum": 0, "type": "quantitative"}, "x2": {"datum": 3.05}, "y": {"datum": -0.11, "type": "quantitative"}, "y2": {"datum": 1.03}}},
        {"mark": {"type": "rule", "color": "black", "strokeWidth": 1.5},
         "encoding": {"x": {"datum": 1.39, "type": "quantitative"}, "x2": {"datum": 1.63}, "y": {"datum": 0.88, "type": "quantitative"}}},
        {"mark": {"type": "text", "text": "RightHipAngle", "align": "left", "baseline": "middle", "fontSize": 10, "fontWeight": "bold"},
         "encoding": {"x": {"datum": 1.81, "type": "quantitative"}, "y": {"datum": 0.88, "type": "quantitative"}}},
        {"mark": {"type": "text", "text": "Last step", "align": "center", "baseline": "alphabetic", "font": "Liberation Sans", "fontStyle": "italic", "fontSize": 28},
         "encoding": {"x": {"datum": 2.1, "type": "quantitative"}, "y": {"datum": 0.02, "type": "quantitative"}}}
      ]
    },
    {
      "layer": [
        {"data": {"name": "three_steps"}, "mark": {"type": "line", "color": "black", "strokeWidth": 2.4, "interpolate": "monotone"},
         "encoding": {
           "x": {"field": "t", "type": "quantitative", "scale": {"domain": [0, 3.02], "range": [370, 658], "nice": false, "zero": false},
                 "axis": {"orient": "bottom", "offset": -689, "values": [0, 0.5, 1, 1.5, 2, 2.5, 3], "format": "~g", "title": "Time [sec]", "labelFontSize": 11, "titleFontSize": 14, "labelPadding": 11, "titlePadding": 6}},
           "y": {"field": "v", "type": "quantitative", "scale": {"domain": [0, 0.9], "range": [833, 660], "nice": false, "zero": false},
                 "axis": {"orient": "left", "offset": -370, "values": [0, 0.2, 0.4, 0.6, 0.8], "format": "~g", "title": "Angle [rad]", "labelFontSize": 10, "titleFontSize": 11}},
           "detail": {"field": "step"}}},
        {"mark": {"type": "rect", "fill": "transparent", "stroke": "black", "strokeWidth": 1.5},
         "encoding": {"x": {"datum": 0, "type": "quantitative"}, "x2": {"datum": 3.02}, "y": {"datum": 0, "type": "quantitative"}, "y2": {"datum": 0.9}}},
        {"mark": {"type": "rule", "color": "black", "strokeWidth": 2.4},
         "encoding": {"x": {"datum": 2.02, "type": "quantitative"}, "x2": {"datum": 2.33}, "y": {"datum": 0.833, "type": "quantitative"}}},
        {"mark": {"type": "rule", "color": "black", "strokeWidth": 2.4},
         "encoding": {"x": {"datum": 2.02, "type": "quantitative"}, "x2": {"datum": 2.33}, "y": {"datum": 0.762, "type": "quantitative"}}},
        {"mark": {"type": "rule", "color": "black", "strokeWidth": 2.4, "strokeDash": [3, 1]},
         "encoding": {"x": {"datum": 2.02, "type": "quantitative"}, "x2": {"datum": 2.33}, "y": {"datum": 0.683, "type": "quantitative"}}},
        {"mark": {"type": "text", "text": "2nd step", "align": "left", "baseline": "middle", "fontSize": 12, "fontWeight": "bold"},
         "encoding": {"x": {"datum": 2.37, "type": "quantitative"}, "y": {"datum": 0.833, "type": "quantitative"}}},
        {"mark": {"type": "text", "text": "3rd step", "align": "left", "baseline": "middle", "fontSize": 12, "fontWeight": "bold"},
         "encoding": {"x": {"datum": 2.37, "type": "quantitative"}, "y": {"datum": 0.762, "type": "quantitative"}}},
        {"mark": {"type": "text", "text": "4th step", "align": "left", "baseline": "middle", "fontSize": 12, "fontWeight": "bold"},
         "encoding": {"x": {"datum": 2.37, "type": "quantitative"}, "y": {"datum": 0.683, "type": "quantitative"}}}
      ]
    },
    {
      "layer": [
        {"data": {"name": "average"}, "mark": {"type": "line", "color": "black", "strokeWidth": 1.5, "interpolate": "monotone"},
         "encoding": {
           "x": {"field": "t", "type": "quantitative", "scale": {"domain": [0, 3.03], "range": [877, 1165], "nice": false, "zero": false},
                 "axis": {"orient": "bottom", "offset": -689, "values": [0, 0.5, 1, 1.5, 2, 2.5, 3], "format": "~g", "title": "Time [sec]", "labelFontSize": 11, "titleFontSize": 14, "labelPadding": 11, "titlePadding": 6}},
           "y": {"field": "v", "type": "quantitative", "scale": {"domain": [0, 0.9], "range": [833, 660], "nice": false, "zero": false},
                 "axis": {"orient": "left", "offset": -877, "values": [0, 0.2, 0.4, 0.6, 0.8], "format": "~g", "title": "Angle [rad]", "labelFontSize": 10, "titleFontSize": 11}}}},
        {"mark": {"type": "rect", "fill": "transparent", "stroke": "black", "strokeWidth": 1.5},
         "encoding": {"x": {"datum": 0, "type": "quantitative"}, "x2": {"datum": 3.03}, "y": {"datum": 0, "type": "quantitative"}, "y2": {"datum": 0.9}}},
        {"mark": {"type": "rule", "color": "black", "strokeWidth": 1.5},
         "encoding": {"x": {"datum": 1.61, "type": "quantitative"}, "x2": {"datum": 1.93}, "y": {"datum": 0.86, "type": "quantitative"}}},
        {"mark": {"type": "text", "text": "Average pattern", "align": "left", "baseline": "middle", "fontSize": 11},
         "encoding": {"x": {"datum": 2.0, "type": "quantitative"}, "y": {"datum": 0.86, "type": "quantitative"}}}
      ]
    },
    {
      "layer": [
        {"data": {"name": "without_offset"}, "mark": {"type": "line", "color": "black", "strokeWidth": 1.8, "interpolate": "monotone"},
         "encoding": {
           "x": {"field": "t", "type": "quantitative", "scale": {"domain": [0, 3.02], "range": [362, 638], "nice": false, "zero": false},
                 "axis": {"orient": "bottom", "offset": -419, "values": [0, 0.5, 1, 1.5, 2, 2.5, 3], "format": "~g", "title": "Time [sec]", "labelFont": "Liberation Sans", "labelFontSize": 15, "titleFontSize": 21, "titleFontWeight": "normal", "labelPadding": 13, "titlePadding": 10}},
           "y": {"field": "v", "type": "quantitative", "scale": {"domain": [-0.1, 0.91], "range": [1103, 935], "nice": false, "zero": false},
                 "axis": {"orient": "left", "offset": -362, "values": [0, 0.2, 0.4, 0.6, 0.8], "format": "~g", "title": "Angle [rad]", "labelFont": "Liberation Sans", "labelFontSize": 15, "titleFontSize": 21, "titleFontWeight": "normal", "labelPadding": 12, "titlePadding": 16}}}},
        {"data": {"name": "with_offset"}, "mark": {"type": "line", "color": "black", "strokeWidth": 1.8, "strokeDash": [9, 6], "interpolate": "monotone"},
         "encoding": {"x": {"field": "t", "type": "quantitative"}, "y": {"field": "v", "type": "quantitative"}}},
        {"mark": {"type": "rect", "fill": "transparent", "stroke": "black", "strokeWidth": 2},
         "encoding": {"x": {"datum": 0, "type": "quantitative"}, "x2": {"datum": 3.02}, "y": {"datum": -0.1, "type": "quantitative"}, "y2": {"datum": 0.91}}},
        {"mark": {"type": "rule", "color": "black", "strokeWidth": 2.2},
         "encoding": {"x": {"datum": 0, "type": "quantitative"}, "x2": {"datum": 3.02}, "y": {"datum": 0, "type": "quantitative"}}},
        {"mark": {"type": "rule", "color": "black", "strokeWidth": 1.2, "strokeDash": [3, 3]},
         "encoding": {"x": {"datum": 0.05, "type": "quantitative"}, "y": {"datum": 0.12, "type": "quantitative"}, "y2": {"datum": 0.02}}},
        {"mark": {"type": "rule", "color": "black", "strokeWidth": 1.2, "strokeDash": [3, 3]},
         "encoding": {"x": {"datum": 0.26, "type": "quantitative"}, "y": {"datum": 0.12, "type": "quantitative"}, "y2": {"datum": 0.02}}},
        {"mark": {"type": "rule", "color": "black", "strokeWidth": 1.8, "strokeDash": [9, 6]},
         "encoding": {"x": {"datum": 1.37, "type": "quantitative"}, "x2": {"datum": 1.7}, "y": {"datum": 0.85, "type": "quantitative"}}},
        {"mark": {"type": "rule", "color": "black", "strokeWidth": 1.8},
         "encoding": {"x": {"datum": 1.37, "type": "quantitative"}, "x2": {"datum": 1.7}, "y": {"datum": 0.74, "type": "quantitative"}}},
        {"mark": {"type": "text", "text": "with Offset", "align": "left", "baseline": "middle", "fontSize": 17},
         "encoding": {"x": {"datum": 1.8, "type": "quantitative"}, "y": {"datum": 0.85, "type": "quantitative"}}},
        {"mark": {"type": "text", "text": "without Offset", "align": "left", "baseline": "middle", "fontSize": 17},
         "encoding": {"x": {"datum": 1.8, "type": "quantitative"}, "y": {"datum": 0.74, "type": "quantitative"}}}
      ]
    },
    {
      "layer": [
        {"data": {"name": "bezier_hip"}, "mark": {"type": "line", "color": "black", "strokeWidth": 1.2, "interpolate": "monotone"},
         "encoding": {
           "x": {"field": "t", "type": "quantitative", "scale": {"domain": [2, 3], "range": [922, 1157], "nice": false, "zero": false},
                 "axis": {"orient": "bottom", "offset": -405, "values": [2, 2.1, 2.2, 2.3, 2.4, 2.5, 2.6, 2.7, 2.8, 2.9, 3], "format": "~g", "title": "Time [sec]", "labelFontSize": 7.5, "titleFontSize": 9, "labelPadding": 7, "titlePadding": 3}},
           "y": {"field": "v", "type": "quantitative", "scale": {"domain": [-0.05, 0.3], "range": [1117, 948], "nice": false, "zero": false},
                 "axis": {"orient": "left", "offset": -922, "values": [-0.05, 0, 0.05, 0.1, 0.15, 0.2, 0.25, 0.3], "format": "~g", "title": "Angle [rad]", "labelFontSize": 7.5, "titleFontSize": 9, "labelPadding": 6}}}},
        {"mark": {"type": "rect", "fill": "transparent", "stroke": "black", "strokeWidth": 1.5},
         "encoding": {"x": {"datum": 2, "type": "quantitative"}, "x2": {"datum": 3}, "y": {"datum": -0.05, "type": "quantitative"}, "y2": {"datum": 0.3}}},
        {"mark": {"type": "rule", "color": "#555", "strokeWidth": 1},
         "encoding": {"x": {"datum": 2, "type": "quantitative"}, "x2": {"datum": 3}, "y": {"datum": 0.007, "type": "quantitative"}}},
        {"mark": {"type": "rule", "color": "#555", "strokeWidth": 1},
         "encoding": {"x": {"datum": 2, "type": "quantitative"}, "x2": {"datum": 3}, "y": {"datum": -0.003, "type": "quantitative"}}},
        {"mark": {"type": "rule", "color": "black", "strokeWidth": 1.5, "strokeDash": [1.5, 4]},
         "encoding": {"x": {"datum": 2.42, "type": "quantitative"}, "y": {"datum": 0.15, "type": "quantitative"}, "y2": {"datum": -0.05}}},
        {"data": {"name": "bezier_curve"}, "mark": {"type": "line", "color": "black", "strokeWidth": 1.2, "strokeDash": [3, 2]},
         "encoding": {"x": {"field": "t", "type": "quantitative"}, "y": {"field": "v", "type": "quantitative"}}},
        {"mark": {"type": "rule", "color": "black", "strokeWidth": 7},
         "encoding": {"x": {"datum": 2.42, "type": "quantitative"}, "x2": {"datum": 2.93}, "y": {"datum": 0.159, "type": "quantitative"}, "y2": {"datum": 0.061}}},
        {"mark": {"type": "rule", "color": "black", "strokeWidth": 6},
         "encoding": {"x": {"datum": 2.84, "type": "quantitative"}, "x2": {"datum": 2.93}, "y": {"datum": 0, "type": "quantitative"}}},
        {"data": {"name": "bezier_points"}, "mark": {"type": "circle", "color": "black", "size": 190, "opacity": 1},
         "encoding": {"x": {"field": "t", "type": "quantitative"}, "y": {"field": "v", "type": "quantitative"}}},
        {"data": {"name": "bezier_points"}, "transform": [{"filter": "datum.p == 'P₀' || datum.p == 'P₁'"}],
         "mark": {"type": "text", "fontStyle": "italic", "fontWeight": "bold", "fontSize": 13, "align": "left", "baseline": "middle", "dx": 10, "dy": -6},
         "encoding": {"x": {"field": "t", "type": "quantitative"}, "y": {"field": "v", "type": "quantitative"}, "text": {"field": "p"}}},
        {"data": {"name": "bezier_points"}, "transform": [{"filter": "datum.p == 'P₂'"}],
         "mark": {"type": "text", "fontStyle": "italic", "fontWeight": "bold", "fontSize": 13, "align": "left", "baseline": "middle", "dx": 9, "dy": 9},
         "encoding": {"x": {"field": "t", "type": "quantitative"}, "y": {"field": "v", "type": "quantitative"}, "text": {"field": "p"}}},
        {"data": {"name": "bezier_points"}, "transform": [{"filter": "datum.p == 'P₃'"}],
         "mark": {"type": "text", "fontStyle": "italic", "fontWeight": "bold", "fontSize": 13, "align": "right", "baseline": "middle", "dx": -2, "dy": 11},
         "encoding": {"x": {"field": "t", "type": "quantitative"}, "y": {"field": "v", "type": "quantitative"}, "text": {"field": "p"}}},
        {"mark": {"type": "text", "text": ["P₀: Start point", "P₁: Control point1", "P₂: End point", "P₃: Control point2"], "align": "left", "baseline": "middle", "fontStyle": "italic", "fontWeight": "bold", "fontSize": 8.5, "lineHeight": 11.5},
         "encoding": {"x": {"datum": 2.04, "type": "quantitative"}, "y": {"datum": 0.118, "type": "quantitative"}}},
        {"mark": {"type": "rule", "color": "black", "strokeWidth": 1.2},
         "encoding": {"x": {"datum": 2.57, "type": "quantitative"}, "x2": {"datum": 2.66}, "y": {"datum": 0.272, "type": "quantitative"}}},
        {"mark": {"type": "text", "text": "RightHipAngle", "align": "left", "baseline": "middle", "fontSize": 8, "fontWeight": "bold"},
         "encoding": {"x": {"datum": 2.69, "type": "quantitative"}, "y": {"datum": 0.272, "type": "quantitative"}}},
        {"mark": {"type": "rule", "color": "black", "strokeWidth": 4},
         "encoding": {"x": {"datum": 2.47, "type": "quantitative"}, "x2": {"datum": 2.88}, "y": {"datum": -0.046, "type": "quantitative"}}},
        {"mark": {"type": "point", "shape": "M0,-0.7L0,0.7L-1.4,0Z", "size": 144, "filled": true, "color": "black", "opacity": 1},
         "encoding": {"x": {"datum": 2.47, "type": "quantitative"}, "y": {"datum": -0.046, "type": "quantitative"}}},
        {"mark": {"type": "point", "shape": "M0,-0.7L0,0.7L1.4,0Z", "size": 144, "filled": true, "color": "black", "opacity": 1},
         "encoding": {"x": {"datum": 2.88, "type": "quantitative"}, "y": {"datum": -0.046, "type": "quantitative"}}},
        {"mark": {"type": "text", "text": "Adjust span", "align": "center", "baseline": "middle", "fontSize": 9.5, "fontWeight": "bold"},
         "encoding": {"x": {"datum": 2.62, "type": "quantitative"}, "y": {"datum": -0.024, "type": "quantitative"}}}
      ]
    },
    {
      "layer": [
        {"data": {"name": "reference"}, "mark": {"type": "line", "color": "black", "strokeWidth": 1.6, "interpolate": "monotone"},
         "encoding": {
           "x": {"field": "t", "type": "quantitative", "scale": {"domain": [0, 3.03], "range": [191, 452], "nice": false, "zero": false},
                 "axis": {"orient": "bottom", "offset": -52, "values": [0, 0.5, 1, 1.5, 2, 2.5, 3], "format": "~g", "title": "Time [sec]", "labelFontSize": 10, "titleFontSize": 12, "labelPadding": 12, "titlePadding": 6}},
           "y": {"field": "v", "type": "quantitative", "scale": {"domain": [-0.093, 0.8], "range": [1470, 1288], "nice": false, "zero": false},
                 "axis": {"orient": "left", "offset": -191, "values": [0, 0.2, 0.4, 0.6, 0.8], "format": "~g", "title": "Angle [rad]", "labelFontSize": 10, "titleFontSize": 11}}}},
        {"mark": {"type": "rect", "fill": "transparent", "stroke": "black", "strokeWidth": 2.5},
         "encoding": {"x": {"datum": 0, "type": "quantitative"}, "x2": {"datum": 3.03}, "y": {"datum": -0.093, "type": "quantitative"}, "y2": {"datum": 0.8}}},
        {"mark": {"type": "rule", "color": "#8a8a8a", "strokeWidth": 1.2},
         "encoding": {"x": {"datum": 0.4, "type": "quantitative"}, "x2": {"datum": 2.95}, "y": {"datum": 0.013, "type": "quantitative"}}},
        {"mark": {"type": "rule", "color": "#8a8a8a", "strokeWidth": 1.2},
         "encoding": {"x": {"datum": 0.4, "type": "quantitative"}, "x2": {"datum": 2.95}, "y": {"datum": -0.007, "type": "quantitative"}}},
        {"mark": {"type": "rule", "color": "black", "strokeWidth": 1.6},
         "encoding": {"x": {"datum": 1.62, "type": "quantitative"}, "x2": {"datum": 1.92}, "y": {"datum": 0.715, "type": "quantitative"}}},
        {"mark": {"type": "text", "text": "RightHipAngle", "align": "left", "baseline": "middle", "fontSize": 10, "fontWeight": "bold"},
         "encoding": {"x": {"datum": 1.98, "type": "quantitative"}, "y": {"datum": 0.715, "type": "quantitative"}}}
      ]
    },
    {
      "layer": [
        {"data": {"name": "swing"}, "mark": {"type": "line", "color": "black", "strokeWidth": 1.6, "interpolate": "monotone"},
         "encoding": {
           "x": {"field": "t", "type": "quantitative", "scale": {"domain": [0, 1.68], "range": [786, 929], "nice": false, "zero": false},
                 "axis": {"orient": "bottom", "offset": -52, "values": [0, 0.5, 1, 1.5], "format": "~g", "title": "Time [sec]", "labelFontSize": 10, "titleFontSize": 12, "labelPadding": 12, "titlePadding": 6}},
           "y": {"field": "v", "type": "quantitative", "scale": {"domain": [-0.092, 0.8], "range": [1470, 1292], "nice": false, "zero": false},
                 "axis": {"orient": "left", "offset": -786, "values": [0, 0.2, 0.4, 0.6, 0.8], "format": "~g", "title": "Angle [rad]", "labelFontSize": 10, "titleFontSize": 11}}}},
        {"mark": {"type": "rect", "fill": "transparent", "stroke": "black", "strokeWidth": 2.5},
         "encoding": {"x": {"datum": 0, "type": "quantitative"}, "x2": {"datum": 1.68}, "y": {"datum": -0.092, "type": "quantitative"}, "y2": {"datum": 0.8}}},
        {"mark": {"type": "rule", "color": "black", "strokeWidth": 1.6},
         "encoding": {"x": {"datum": 0.13, "type": "quantitative"}, "x2": {"datum": 0.38}, "y": {"datum": 0.742, "type": "quantitative"}}},
        {"mark": {"type": "text", "text": "RightHip (Swing)", "align": "left", "baseline": "middle", "fontSize": 10, "fontWeight": "bold"},
         "encoding": {"x": {"datum": 0.5, "type": "quantitative"}, "y": {"datum": 0.742, "type": "quantitative"}}}
      ]
    },
    {
      "layer": [
        {"data": {"name": "support"}, "mark": {"type": "line", "color": "black", "strokeWidth": 1.6, "interpolate": "monotone"},
         "encoding": {
           "x": {"field": "t", "type": "quantitative", "scale": {"domain": [0, 1.27], "range": [1045, 1153], "nice": false, "zero": false},
                 "axis": {"orient": "bottom", "offset": -52, "values": [0, 0.5, 1], "format": "~g", "title": "Time [sec]", "labelFontSize": 10, "titleFontSize": 12, "labelPadding": 12, "titlePadding": 6}},
           "y": {"field": "v", "type": "quantitative", "scale": {"domain": [-0.092, 0.8], "range": [1470, 1292], "nice": false, "zero": false},
                 "axis": {"orient": "left", "offset": -1045, "values": [0, 0.2, 0.4, 0.6, 0.8], "format": "~g", "title": "Angle [rad]", "labelFontSize": 10, "titleFontSize": 11}}}},
        {"mark": {"type": "rect", "fill": "transparent", "stroke": "black", "strokeWidth": 2.5},
         "encoding": {"x": {"datum": 0, "type": "quantitative"}, "x2": {"datum": 1.27}, "y": {"datum": -0.092, "type": "quantitative"}, "y2": {"datum": 0.8}}},
        {"mark": {"type": "rule", "color": "black", "strokeWidth": 1.6},
         "encoding": {"x": {"datum": -0.28, "type": "quantitative"}, "x2": {"datum": -0.04}, "y": {"datum": 0.7, "type": "quantitative"}}},
        {"mark": {"type": "text", "text": "RightHip (Support)", "align": "left", "baseline": "middle", "fontSize": 10, "fontWeight": "bold"},
         "encoding": {"x": {"datum": 0.04, "type": "quantitative"}, "y": {"datum": 0.7, "type": "quantitative"}}}
      ]
    },
    {
      "layer": [
        {"mark": {"type": "point", "shape": "M0.989,-0.322L1.122,-0.322L0.044,0.378L-0.022,0.322Z", "size": 32400, "filled": true, "fill": "#5c5c5c", "strokeWidth": 0, "opacity": 1},
         "encoding": {"x": {"datum": 599, "type": "quantitative", "scale": {"domain": [0, 1198], "range": [0, 1198], "nice": false, "zero": false}, "axis": null},
                      "y": {"datum": 634, "type": "quantitative", "scale": {"domain": [0, 1522], "range": [0, 1522], "nice": false, "zero": false}, "axis": null}}},
        {"mark": {"type": "point", "shape": "M-0.989,-0.322L0.989,-0.322L-0.022,0.322Z", "size": 32400, "filled": true, "fill": "#f1f1f1", "stroke": "black", "strokeWidth": 2, "opacity": 1},
         "encoding": {"x": {"datum": 599, "type": "quantitative", "axis": null}, "y": {"datum": 634, "type": "quantitative", "axis": null}}},
        {"mark": {"type": "point", "shape": "M0.989,-0.322L1.122,-0.322L0.044,0.378L-0.022,0.322Z", "size": 32400, "filled": true, "fill": "#5c5c5c", "strokeWidth": 0, "opacity": 1},
         "encoding": {"x": {"datum": 597, "type": "quantitative", "axis": null}, "y": {"datum": 908, "type": "quantitative", "axis": null}}},
        {"mark": {"type": "point", "shape": "M-0.989,-0.322L0.989,-0.322L-0.022,0.322Z", "size": 32400, "filled": true, "fill": "#f1f1f1", "stroke": "black", "strokeWidth": 2, "opacity": 1},
         "encoding": {"x": {"datum": 597, "type": "quantitative", "axis": null}, "y": {"datum": 908, "type": "quantitative", "axis": null}}},
        {"mark": {"type": "point", "shape": "M-1,-0.29L1,-0.29L0,0.29Z", "size": 33856, "filled": true, "fill": "#141414", "stroke": "black", "strokeWidth": 1, "opacity": 1},
         "encoding": {"x": {"datum": 597, "type": "quantitative", "axis": null}, "y": {"datum": 1189, "type": "quantitative", "axis": null}}},
        {"mark": {"type": "point", "shape": "M-0.9,-0.45L-0.067,-0.45L-0.067,-0.883L0.9,0.017L-0.067,0.883L-0.067,0.5L-0.9,0.5Z", "size": 14400, "filled": true, "fill": "#6a6a6a", "strokeWidth": 0, "opacity": 1},
         "encoding": {"x": {"datum": 771, "type": "quantitative", "axis": null}, "y": {"datum": 761, "type": "quantitative", "axis": null}}},
        {"mark": {"type": "point", "shape": "M-0.9,-0.45L-0.067,-0.45L-0.067,-0.883L0.9,0.017L-0.067,0.883L-0.067,0.5L-0.9,0.5Z", "size": 14400, "filled": true, "fill": "white", "stroke": "black", "strokeWidth": 2, "opacity": 1},
         "encoding": {"x": {"datum": 766, "type": "quantitative", "axis": null}, "y": {"datum": 755, "type": "quantitative", "axis": null}}},
        {"mark": {"type": "point", "shape": "M-0.992,-0.267L0.192,-0.267L0.192,-0.467L0.992,0.017L0.192,0.467L0.192,0.217L-0.992,0.217Z", "size": 57600, "filled": true, "fill": "#6a6a6a", "strokeWidth": 0, "opacity": 1},
         "encoding": {"x": {"datum": 599, "type": "quantitative", "axis": null}, "y": {"datum": 1391, "type": "quantitative", "axis": null}}},
        {"mark": {"type": "point", "shape": "M-0.992,-0.267L0.192,-0.267L0.192,-0.467L0.992,0.017L0.192,0.467L0.192,0.217L-0.992,0.217Z", "size": 57600, "filled": true, "fill": "white", "stroke": "black", "strokeWidth": 2, "opacity": 1},
         "encoding": {"x": {"datum": 593, "type": "quantitative", "axis": null}, "y": {"datum": 1384, "type": "quantitative", "axis": null}}},
        {"mark": {"type": "rule", "color": "black", "strokeWidth": 9},
         "encoding": {"x": {"datum": 518, "type": "quantitative", "axis": null}, "y": {"datum": 385, "type": "quantitative", "axis": null}, "x2": {"datum": 323}, "y2": {"datum": 444}}},
        {"mark": {"type": "rule", "color": "black", "strokeWidth": 9},
         "encoding": {"x": {"datum": 603, "type": "quantitative", "axis": null}, "y": {"datum": 388, "type": "quantitative", "axis": null}, "x2": {"datum": 522}, "y2": {"datum": 441}}},
        {"mark": {"type": "rule", "color": "black", "strokeWidth": 9},
         "encoding": {"x": {"datum": 673, "type": "quantitative", "axis": null}, "y": {"datum": 386, "type": "quantitative", "axis": null}, "x2": {"datum": 673}, "y2": {"datum": 417}}},
        {"mark": {"type": "rule", "color": "black", "strokeWidth": 9},
         "encoding": {"x": {"datum": 747, "type": "quantitative", "axis": null}, "y": {"datum": 388, "type": "quantitative", "axis": null}, "x2": {"datum": 815}, "y2": {"datum": 442}}},
        {"mark": {"type": "rule", "color": "black", "strokeWidth": 9},
         "encoding": {"x": {"datum": 818, "type": "quantitative", "axis": null}, "y": {"datum": 388, "type": "quantitative", "axis": null}, "x2": {"datum": 1005}, "y2": {"datum": 447}}},
        {"mark": {"type": "point", "shape": "M0,0L0.9,1.8L-0.9,1.8Z", "size": 834, "angle": 253.1, "filled": true, "color": "black", "opacity": 1},
         "encoding": {"x": {"datum": 298, "type": "quantitative", "axis": null}, "y": {"datum": 452, "type": "quantitative", "axis": null}}},
        {"mark": {"type": "point", "shape": "M0,0L0.9,1.8L-0.9,1.8Z", "size": 834, "angle": 237, "filled": true, "color": "black", "opacity": 1},
         "encoding": {"x": {"datum": 500, "type": "quantitative", "axis": null}, "y": {"datum": 455, "type": "quantitative", "axis": null}}},
        {"mark": {"type": "point", "shape": "M0,0L0.9,1.8L-0.9,1.8Z", "size": 834, "angle": 180, "filled": true, "color": "black", "opacity": 1},
         "encoding": {"x": {"datum": 673, "type": "quantitative", "axis": null}, "y": {"datum": 443, "type": "quantitative", "axis": null}}},
        {"mark": {"type": "point", "shape": "M0,0L0.9,1.8L-0.9,1.8Z", "size": 834, "angle": 128.5, "filled": true, "color": "black", "opacity": 1},
         "encoding": {"x": {"datum": 835, "type": "quantitative", "axis": null}, "y": {"datum": 458, "type": "quantitative", "axis": null}}},
        {"mark": {"type": "point", "shape": "M0,0L0.9,1.8L-0.9,1.8Z", "size": 834, "angle": 107.5, "filled": true, "color": "black", "opacity": 1},
         "encoding": {"x": {"datum": 1030, "type": "quantitative", "axis": null}, "y": {"datum": 455, "type": "quantitative", "axis": null}}},
        {"mark": {"type": "text", "text": "Measurement of", "font": "DejaVu Serif", "fontWeight": "bold", "fontSize": 25, "align": "left", "baseline": "alphabetic"},
         "encoding": {"x": {"datum": 27, "type": "quantitative", "axis": null}, "y": {"datum": 38, "type": "quantitative", "axis": null}}},
        {"mark": {"type": "text", "text": "healthy person’s walk", "font": "DejaVu Serif", "fontWeight": "bold", "fontSize": 25, "align": "left", "baseline": "alphabetic"},
         "encoding": {"x": {"datum": 42, "type": "quantitative", "axis": null}, "y": {"datum": 74, "type": "quantitative", "axis": null}}},
        {"mark": {"type": "text", "text": "&", "font": "DejaVu Serif", "fontWeight": "bold", "fontSize": 25, "align": "left", "baseline": "alphabetic"},
         "encoding": {"x": {"datum": 118, "type": "quantitative", "axis": null}, "y": {"datum": 109, "type": "quantitative", "axis": null}}},
        {"mark": {"type": "text", "text": "Process to divide into", "font": "DejaVu Serif", "fontWeight": "bold", "fontSize": 25, "align": "left", "baseline": "alphabetic"},
         "encoding": {"x": {"datum": 27, "type": "quantitative", "axis": null}, "y": {"datum": 146, "type": "quantitative", "axis": null}}},
        {"mark": {"type": "text", "text": "data of every one step", "font": "DejaVu Serif", "fontWeight": "bold", "fontSize": 25, "align": "left", "baseline": "alphabetic"},
         "encoding": {"x": {"datum": 42, "type": "quantitative", "axis": null}, "y": {"datum": 184, "type": "quantitative", "axis": null}}},
        {"mark": {"type": "text", "text": "Process", "font": "DejaVu Serif", "fontWeight": "bold", "fontSize": 25, "align": "left", "baseline": "alphabetic"},
         "encoding": {"x": {"datum": 22, "type": "quantitative", "axis": null}, "y": {"datum": 672, "type": "quantitative", "axis": null}}},
        {"mark": {"type": "text", "text": "to make", "font": "DejaVu Serif", "fontWeight": "bold", "fontSize": 25, "align": "left", "baseline": "alphabetic"},
         "encoding": {"x": {"datum": 38, "type": "quantitative", "axis": null}, "y": {"datum": 709, "type": "quantitative", "axis": null}}},
        {"mark": {"type": "text", "text": "average pattern", "font": "DejaVu Serif", "fontWeight": "bold", "fontSize": 25, "align": "left", "baseline": "alphabetic"},
         "encoding": {"x": {"datum": 22, "type": "quantitative", "axis": null}, "y": {"datum": 746, "type": "quantitative", "axis": null}}},
        {"mark": {"type": "text", "text": "Process", "font": "DejaVu Serif", "fontWeight": "bold", "fontSize": 25, "align": "left", "baseline": "alphabetic"},
         "encoding": {"x": {"datum": 20, "type": "quantitative", "axis": null}, "y": {"datum": 956, "type": "quantitative", "axis": null}}},
        {"mark": {"type": "text", "text": "to adjust", "font": "DejaVu Serif", "fontWeight": "bold", "fontSize": 25, "align": "left", "baseline": "alphabetic"},
         "encoding": {"x": {"datum": 35, "type": "quantitative", "axis": null}, "y": {"datum": 993, "type": "quantitative", "axis": null}}},
        {"mark": {"type": "text", "text": "average pattern", "font": "DejaVu Serif", "fontWeight": "bold", "fontSize": 25, "align": "left", "baseline": "alphabetic"},
         "encoding": {"x": {"datum": 18, "type": "quantitative", "axis": null}, "y": {"datum": 1030, "type": "quantitative", "axis": null}}},
        {"mark": {"type": "text", "text": "Complete process to adjust", "font": "DejaVu Serif", "fontWeight": "bold", "fontSize": 25, "align": "left", "baseline": "alphabetic"},
         "encoding": {"x": {"datum": 15, "type": "quantitative", "axis": null}, "y": {"datum": 1241, "type": "quantitative", "axis": null}}},
        {"mark": {"type": "text", "text": "temporary reference pattern", "font": "DejaVu Serif", "fontWeight": "bold", "fontSize": 25, "align": "left", "baseline": "alphabetic"},
         "encoding": {"x": {"datum": 30, "type": "quantitative", "axis": null}, "y": {"datum": 1276, "type": "quantitative", "axis": null}}},
        {"mark": {"type": "text", "text": "Offset angle cut", "font": "DejaVu Serif", "fontSize": 25.5, "align": "left", "baseline": "alphabetic"},
         "encoding": {"x": {"datum": 135, "type": "quantitative", "axis": null}, "y": {"datum": 1120, "type": "quantitative", "axis": null}}},
        {"mark": {"type": "text", "text": "Remake pattern", "font": "DejaVu Serif", "fontSize": 25, "align": "left", "baseline": "alphabetic"},
         "encoding": {"x": {"datum": 680, "type": "quantitative", "axis": null}, "y": {"datum": 1108, "type": "quantitative", "axis": null}}},
        {"mark": {"type": "text", "text": "by Bezier curve", "font": "DejaVu Serif", "fontSize": 24, "align": "left", "baseline": "alphabetic"},
         "encoding": {"x": {"datum": 717, "type": "quantitative", "axis": null}, "y": {"datum": 1144, "type": "quantitative", "axis": null}}},
        {"mark": {"type": "text", "text": "Phase dividing", "font": "DejaVu Serif", "fontSize": 26, "align": "center", "baseline": "alphabetic"},
         "encoding": {"x": {"datum": 578, "type": "quantitative", "axis": null}, "y": {"datum": 1390, "type": "quantitative", "axis": null}}},
        {"mark": {"type": "text", "text": "Swing phase", "font": "Liberation Sans", "fontStyle": "italic", "fontSize": 28, "align": "center", "baseline": "alphabetic"},
         "encoding": {"x": {"datum": 845, "type": "quantitative", "axis": null}, "y": {"datum": 1276, "type": "quantitative", "axis": null}}},
        {"mark": {"type": "text", "text": "Support phase", "font": "Liberation Sans", "fontStyle": "italic", "fontSize": 28, "align": "center", "baseline": "alphabetic"},
         "encoding": {"x": {"datum": 1060, "type": "quantitative", "axis": null}, "y": {"datum": 1276, "type": "quantitative", "axis": null}}}
      ]
    }
  ]
}
